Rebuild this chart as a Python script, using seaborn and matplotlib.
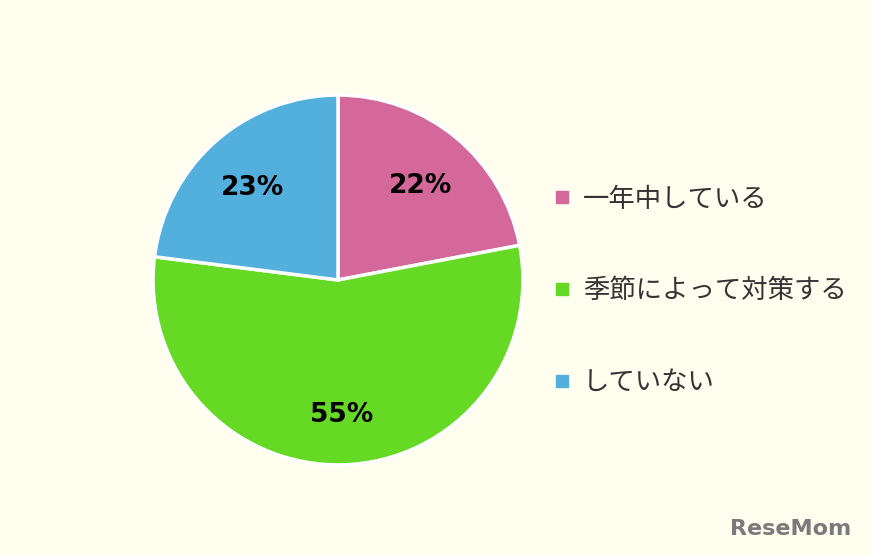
import matplotlib
matplotlib.use("Agg")
import matplotlib.pyplot as plt
from matplotlib.lines import Line2D
import seaborn as sns

categories = ["一年中している", "季節によって対策する", "していない"]
values = [22, 55, 23]
colors = ["#D4689A", "#66D924", "#53B0DD"]
bg = "#FFFEEF"

sns.set_style("white")
plt.rcParams['font.family'] = ['Noto Sans CJK JP', 'DejaVu Sans']

fig = plt.figure(figsize=(8.71, 5.56), dpi=100, facecolor=bg)
ax = fig.add_axes([0.1768, 0.1655, 0.4225, 0.6619])
ax.set_facecolor(bg)
wedges, texts, autotexts = ax.pie(
    values, colors=colors, startangle=90, counterclock=False,
    autopct=lambda p: f"{p:.0f}%", pctdistance=0.70, radius=1.0,
    wedgeprops=dict(edgecolor="white", linewidth=2.5),
    textprops=dict(fontsize=19, fontweight="bold", color="black", family=['DejaVu Sans']))
for t in autotexts:
    x, y = t.get_position()
    t.set_position((x, y - 0.03))
ax.set_xlim(-0.995, 0.995)
ax.set_ylim(-0.995, 0.995)
ax.set_aspect("equal")
ax.axis("off")

handles = [Line2D([0], [0], marker='s', linestyle='none', markersize=9,
                  markerfacecolor=c, markeredgecolor=c) for c in colors]
leg = fig.legend(handles, categories, loc="center left", bbox_to_anchor=(0.606, 0.477),
                 frameon=False, fontsize=19, labelspacing=2.45, handletextpad=0.4,
                 handlelength=0.8, labelcolor="#333333")

fig.text(0.977, 0.03, "ReseMom", ha="right", va="bottom", fontsize=16,
         fontweight="bold", color="#7a7a7a", family=['DejaVu Sans'])

fig.savefig("out.png", dpi=100, facecolor=bg)
